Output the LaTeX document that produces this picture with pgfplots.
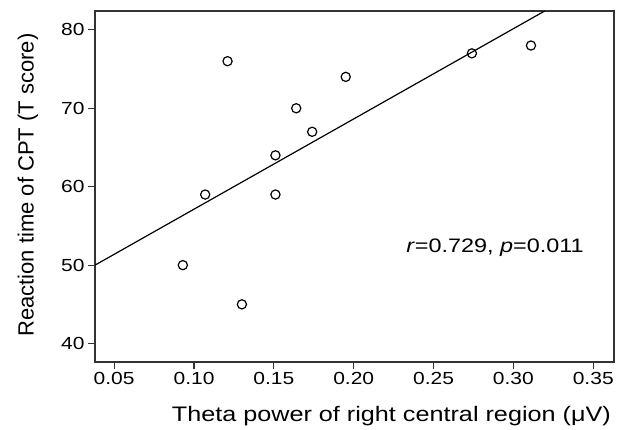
\documentclass[border=0pt]{standalone}
\usepackage{fontspec}
\setmainfont{Liberation Sans}[FakeStretch=1.2]
\newfontfamily\ylabfont{Liberation Sans}
\usepackage{pgfplots}
\pgfplotsset{compat=1.18}
\begin{document}
\begin{tikzpicture}
\begin{axis}[
  name=ax,
  scale only axis,
  width=519pt, height=351pt,
  xmin=0.038, xmax=0.363,
  ymin=37.65, ymax=82.4,
  xtick={0.05,0.10,0.15,0.20,0.25,0.30,0.35},
  ytick={40,50,60,70,80},
  tick align=outside,
  tick pos=left,
  major tick length=7pt,
  axis line style={line width=1.1pt, black!80},
  every tick/.style={line width=1.1pt, black!80},
  tick label style={font=\fontsize{17.5}{20}\selectfont},
  xticklabel style={/pgf/number format/.cd, fixed, fixed zerofill, precision=2, assume math mode=true},
  yticklabel style={/pgf/number format/assume math mode=true},
  xlabel={Theta power of right central region (μV)},
  ylabel={Reaction time of CPT (T score)},
  xlabel style={font=\fontsize{21}{24}\selectfont, at={(axis description cs:0.571,-0.170)}, anchor=base},
  ylabel style={font=\ylabfont\fontsize{22}{24}\selectfont, at={(axis description cs:-0.1184,0.504)}, rotate=0, anchor=base},
]
\addplot [only marks, mark=o, mark size=4.6pt, mark options={line width=1.2pt}] coordinates {
  (0.093,50) (0.107,59) (0.121,76) (0.130,45) (0.151,64) (0.151,59)
  (0.164,70) (0.174,67) (0.195,74) (0.274,77) (0.311,78)
};
\addplot [line width=1.2pt, mark=none] coordinates {(0.038,50) (0.3196,82.4)};
\node [anchor=base west, inner sep=0pt, font=\fontsize{19.5}{22}\selectfont] at (axis cs:0.2328,51.65) {\textit{r}=0.729, \textit{p}=0.011};
\end{axis}
\path ([shift={(-95pt,-67pt)}]ax.south west) rectangle ([shift={(6pt,11pt)}]ax.north east);
\end{tikzpicture}
\end{document}
